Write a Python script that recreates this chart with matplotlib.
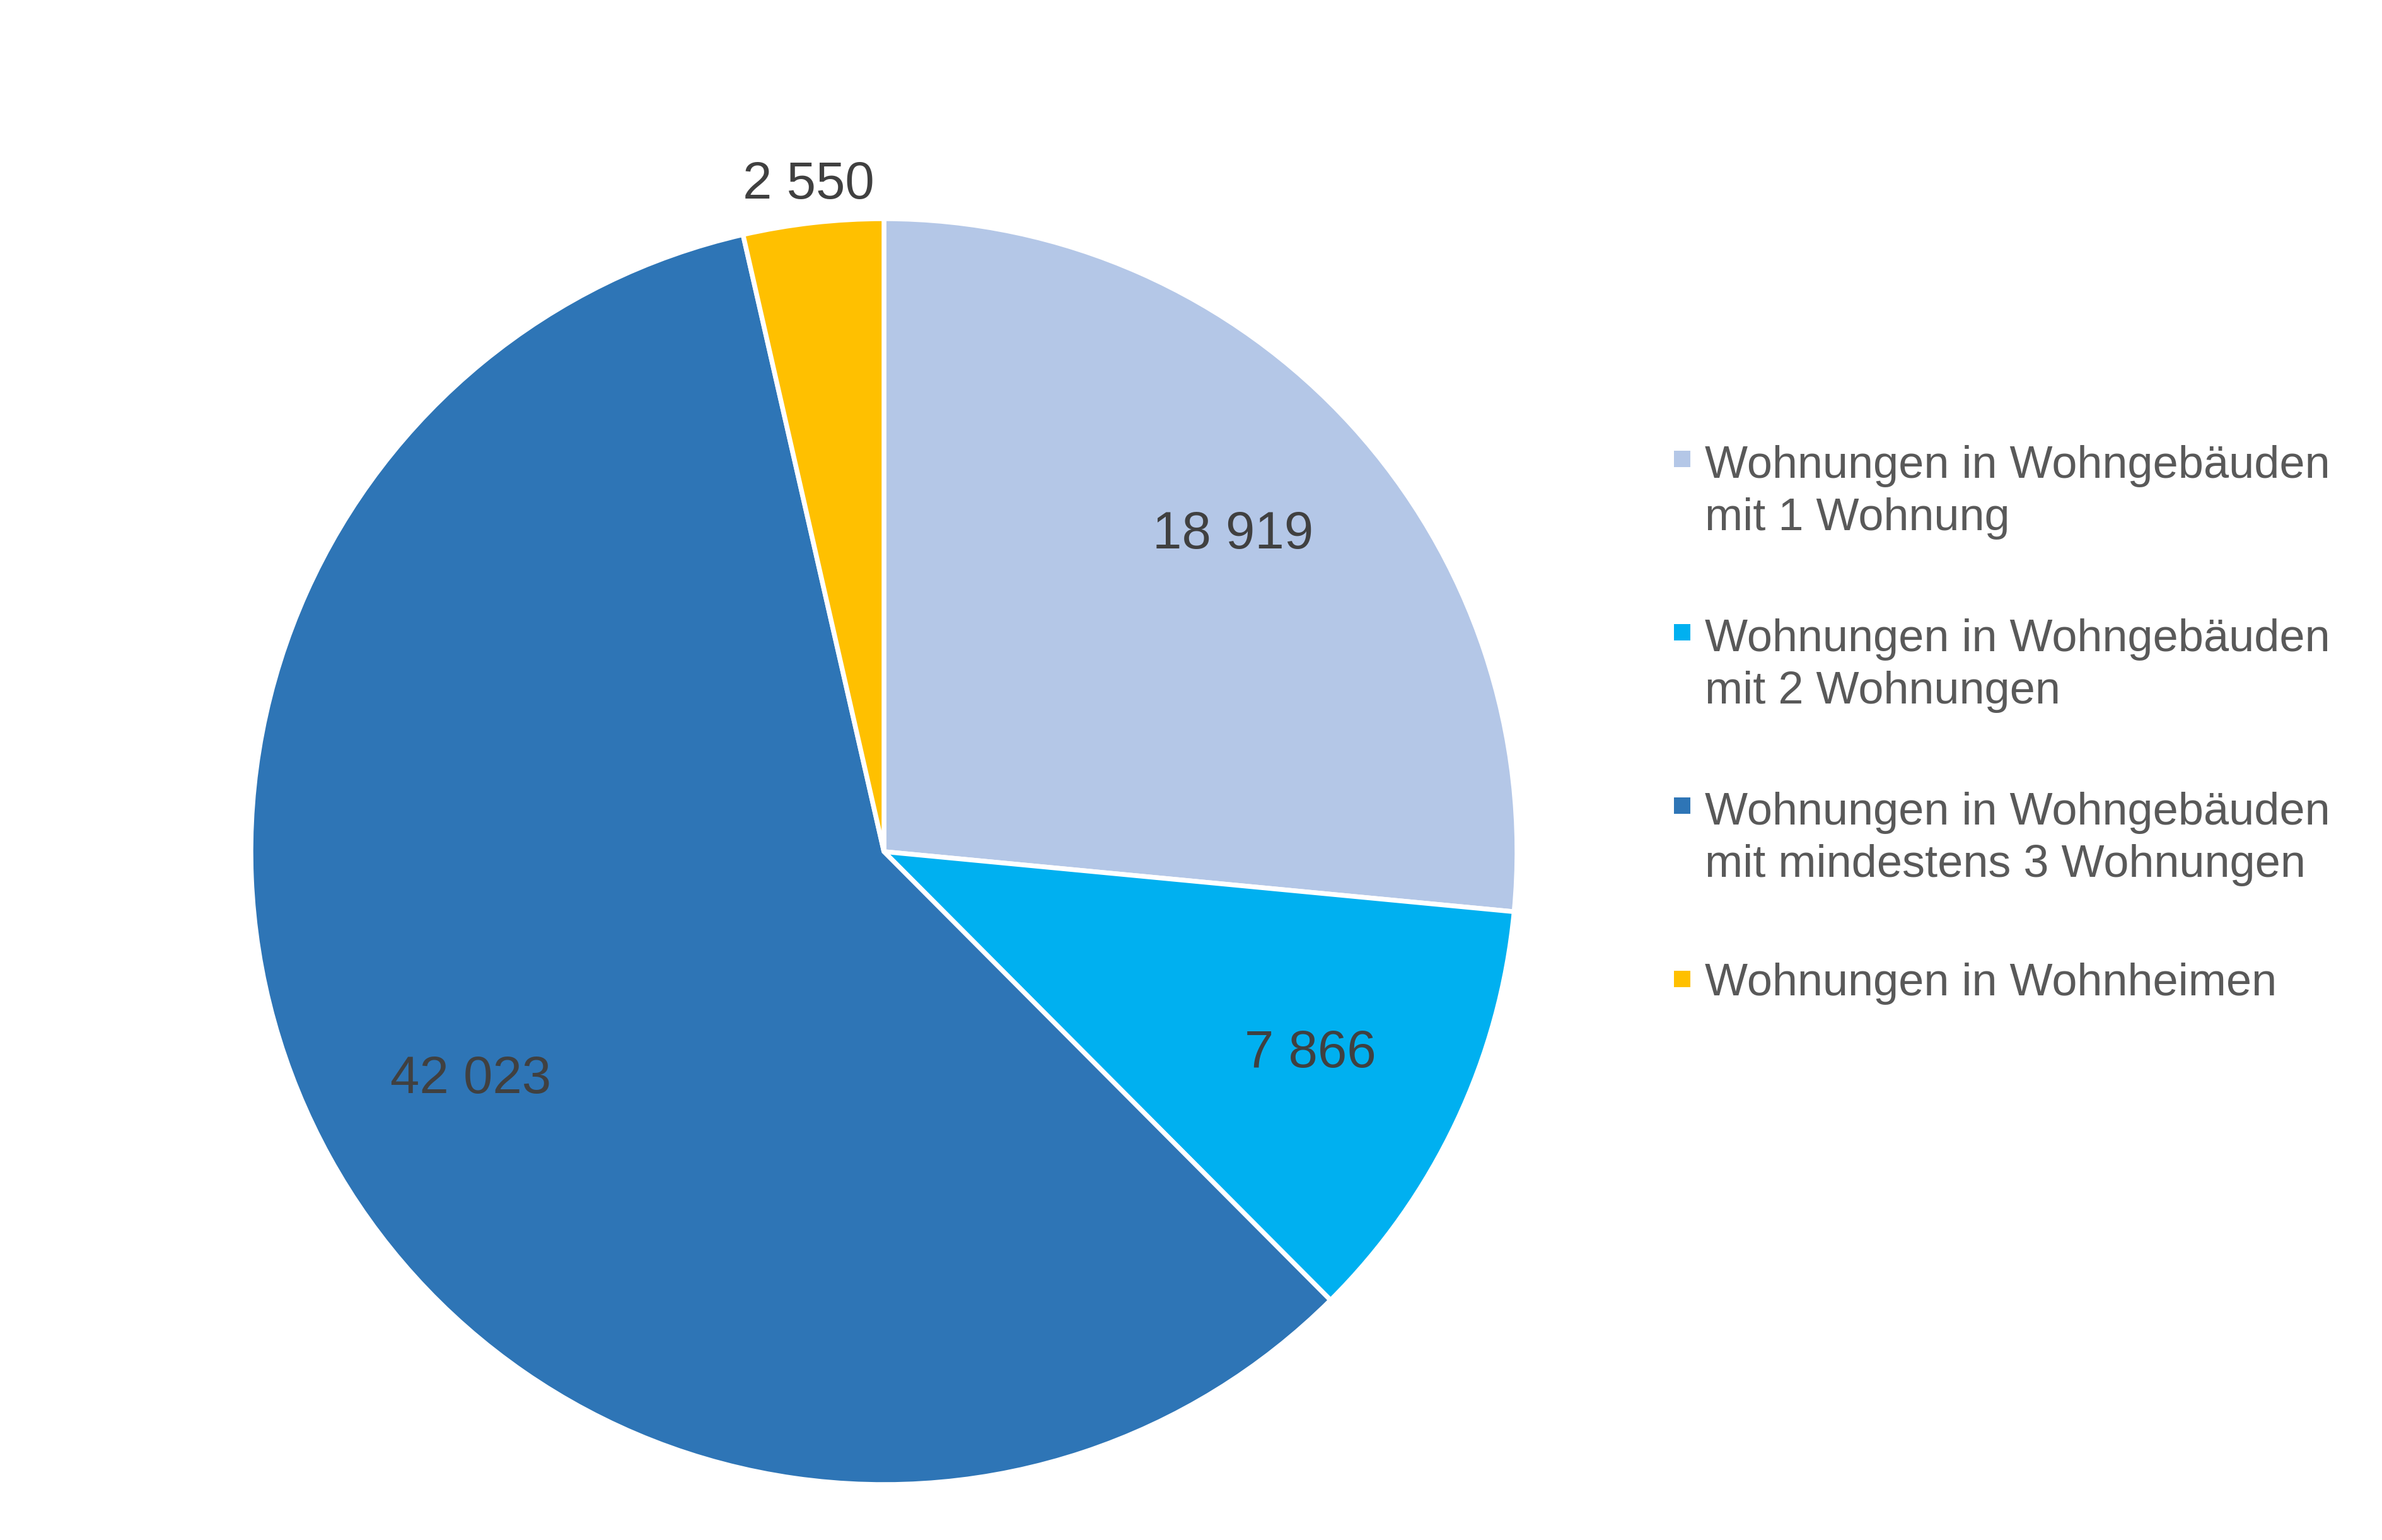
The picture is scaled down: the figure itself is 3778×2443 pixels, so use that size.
import matplotlib
matplotlib.use("Agg")
import matplotlib.pyplot as plt
import numpy as np
from matplotlib.patches import Rectangle

plt.rcParams['font.family'] = ['Liberation Sans', 'DejaVu Sans']

# data
categories = ["Wohnungen in Wohngebäuden\nmit 1 Wohnung",
              "Wohnungen in Wohngebäuden\nmit 2 Wohnungen",
              "Wohnungen in Wohngebäuden\nmit mindestens 3 Wohnungen",
              "Wohnungen in Wohnheimen"]
values = [18919, 7866, 42023, 2550]
value_labels = ["18 919", "7 866", "42 023", "2 550"]
colors = ["#B4C7E7", "#00B0F0", "#2E75B6", "#FFC000"]

W, H = 3779, 2443
dpi = 300
fig = plt.figure(figsize=(W / dpi, H / dpi), dpi=dpi)

# pie centre and radius in pixels
cx, cy, r = 1402, 1351, 1004
ax = fig.add_axes([(cx - r) / W, (H - cy - r) / H, 2 * r / W, 2 * r / H])
wedges, _ = ax.pie(values, colors=colors, startangle=90, counterclock=False,
                   radius=1, wedgeprops=dict(edgecolor="white", linewidth=1.8))
ax.set_xlim(-1, 1)
ax.set_ylim(-1, 1)
ax.set_aspect("equal")
ax.axis("off")

# value labels
for w, lab in zip(wedges, value_labels):
    ang = np.deg2rad((w.theta1 + w.theta2) / 2)
    frac = (w.theta2 - w.theta1) / 360
    d = 1.06 if frac < 0.05 else 0.745
    ax.text(d * np.cos(ang), d * np.sin(ang), lab, ha="center", va="center",
            fontsize=20, color="#404040")

# legend, drawn by hand so the marker sits on the first line
lx_marker, lx_text = 2668, 2704
baselines = [754, 1029, 1304, 1579]  # first-line baselines, px from top
line_pitch = 87
msize = 26
for cat, col, yb in zip(categories, colors, baselines):
    fig.patches.append(Rectangle(((lx_marker - msize / 2) / W, (H - yb + 26 - msize / 2) / H),
                                 msize / W, msize / H, transform=fig.transFigure,
                                 facecolor=col, edgecolor="none"))
    nlines = cat.count("\n") + 1
    ylast = yb + (nlines - 1) * line_pitch
    fig.text(lx_text / W, (H - ylast) / H, cat, ha="left", va="baseline",
             fontsize=17.3, color="#595959", linespacing=1.3)

fig.savefig("out.png", dpi=dpi, facecolor="white")
